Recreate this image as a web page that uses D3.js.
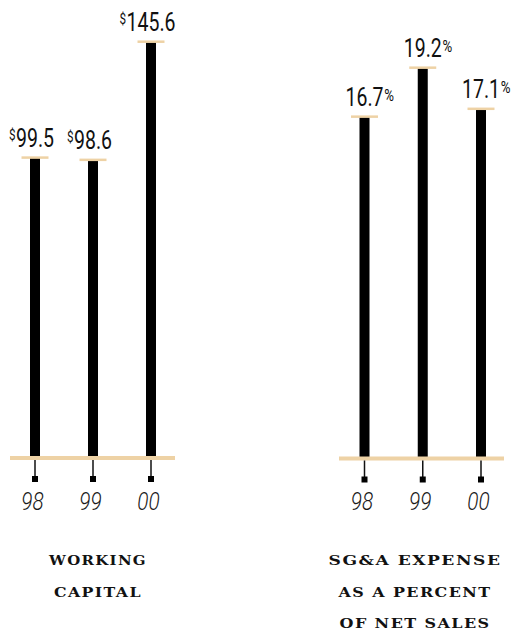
<!DOCTYPE html>
<html><head><meta charset="utf-8">
<script src="https://cdn.jsdelivr.net/npm/d3@7"></script>
<style>
html,body{margin:0;padding:0;background:#fff;}
svg{display:block;}
</style></head>
<body>
<script>
// ---- data ----
const years = ["98", "99", "00"];
const workingCapital = [99.5, 98.6, 145.6];
const sgaPercent = [16.7, 19.2, 17.1];
const wcTitle = ["WORKING", "CAPITAL"];
const sgaTitle = ["SG&A EXPENSE", "AS A PERCENT", "OF NET SALES"];

const W = 518, H = 633;
const tan = "#EED2A5";
const svg = d3.select("body").append("svg").attr("width", W).attr("height", H);

const fmt = d3.format(".1f");

function panel(cfg) {
  const g = svg.append("g");
  const x = d3.scalePoint().domain(years).range(cfg.xRange);
  const y = d3.scaleLinear().domain(cfg.yDomain).range(cfg.yRange);
  const base = cfg.yRange[0];
  const data = years.map((yr, i) => ({yr, v: cfg.values[i]}));

  // bars
  g.selectAll("rect.bar").data(data).join("rect")
    .attr("class", "bar")
    .attr("x", d => x(d.yr) - 5).attr("width", 10)
    .attr("y", d => y(d.v)).attr("height", d => base - y(d.v))
    .attr("fill", "#000");
  // caps
  g.selectAll("line.cap").data(data).join("line")
    .attr("class", "cap")
    .attr("x1", d => x(d.yr) - 13.5).attr("x2", d => x(d.yr) + 13.5)
    .attr("y1", d => y(d.v)).attr("y2", d => y(d.v))
    .attr("stroke", tan).attr("stroke-width", 2.5);
  // baseline
  g.append("rect")
    .attr("x", cfg.baseX[0]).attr("width", cfg.baseX[1] - cfg.baseX[0])
    .attr("y", base - 2).attr("height", 4).attr("fill", tan);
  // ticks
  g.selectAll("line.tick").data(data).join("line")
    .attr("class", "tick")
    .attr("x1", d => x(d.yr)).attr("x2", d => x(d.yr))
    .attr("y1", base + 2).attr("y2", base + 19)
    .attr("stroke", "#111").attr("stroke-width", 1.5);
  g.selectAll("rect.mark").data(data).join("rect")
    .attr("class", "mark")
    .attr("x", d => x(d.yr) - 3).attr("y", base + 18).attr("width", 6).attr("height", 6)
    .attr("fill", "#000");
  // year labels
  g.selectAll("text.yr").data(data).join("text")
    .attr("class", "yr")
    .attr("transform", d => `translate(${x(d.yr) - 2.5},510) scale(0.8,1)`)
    .attr("text-anchor", "middle")
    .attr("font-family", "Roboto").attr("font-weight", 300).attr("font-style", "italic")
    .attr("font-size", 26).attr("fill", "#1a1a1a")
    .text(d => d.yr);
  // value labels
  data.forEach(d => {
    const lg = g.append("g")
      .attr("transform", `translate(${x(d.yr)},${y(d.v) - 10.5}) scale(0.78,1)`);
    const t = lg.append("text")
      .attr("text-anchor", "middle")
      .attr("font-family", "Roboto").attr("font-weight", 400)
      .attr("font-size", 25).attr("fill", "#111")
      .text(fmt(d.v));
    const w = t.node().getComputedTextLength();
    if (cfg.prefix) {
      lg.append("text")
        .attr("x", -w / 2 - 0.5).attr("y", -7)
        .attr("text-anchor", "end")
        .attr("font-family", "Roboto").attr("font-weight", 400)
        .attr("font-size", 15).attr("fill", "#111")
        .text(cfg.prefix);
    }
    if (cfg.suffix) {
      lg.append("text")
        .attr("x", w / 2 + 1).attr("y", -5.5)
        .attr("text-anchor", "start")
        .attr("font-family", "Roboto").attr("font-weight", 400)
        .attr("font-size", 17).attr("fill", "#111")
        .text(cfg.suffix);
    }
  });
  // titles (wide serif caps)
  cfg.title.forEach((line, i) => {
    const tg = g.append("g");
    const t = tg.append("text")
      .attr("text-anchor", "middle")
      .attr("font-family", "DejaVu Serif").attr("font-weight", "bold")
      .attr("font-size", 13.5).attr("letter-spacing", 1.2).attr("fill", "#111")
      .text(line);
    const w = t.node().getComputedTextLength();
    const s = cfg.titleLens[i] / w;
    tg.attr("transform", `translate(${cfg.titleX},${565 + i * 31.5}) scale(${s},1)`);
  });
}

panel({
  values: workingCapital, xRange: [35, 151], yDomain: [-20, 160], yRange: [458, 5.5],
  baseX: [10, 175], prefix: "$", suffix: null,
  title: wcTitle, titleX: 98, titleLens: [98, 88]
});
panel({
  values: sgaPercent, xRange: [364.5, 481], yDomain: [-0.75, 20], yRange: [458.5, 52],
  baseX: [339, 504], prefix: null, suffix: "%",
  title: sgaTitle, titleX: 415, titleLens: [173, 153, 151]
});
</script>
</body></html>
